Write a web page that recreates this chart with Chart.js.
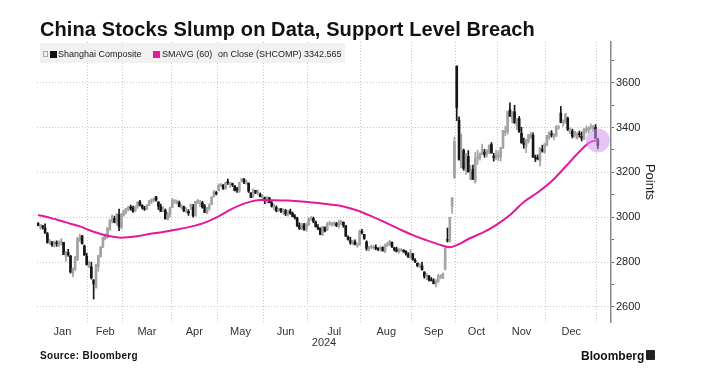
<!DOCTYPE html>
<html>
<head>
<meta charset="utf-8">
<script src="https://cdn.jsdelivr.net/npm/chart.js@4.4.1/dist/chart.umd.min.js"></script>
<style>
  body { margin: 0; background: #fff; }
  #wrap { position: relative; width: 710px; height: 384px; font-family: "Liberation Sans", Arial, sans-serif; overflow: hidden; }
  #chart { position: absolute; left: 0; top: 0; }
  #title { position: absolute; left: 40px; top: 19px; font-size: 20px; line-height: 20px; font-weight: bold; color: #111; white-space: nowrap; letter-spacing: 0.1px; }
  #legend { position: absolute; left: 40px; top: 43px; width: 305px; height: 20px; background: rgba(240,240,240,0.92); z-index: 2; }
  #legend span { position: absolute; top: 7px; font-size: 9px; line-height: 9px; color: #222; white-space: nowrap; }
  #legend i { position: absolute; display: block; }
  #source { position: absolute; left: 40px; top: 351px; font-size: 10px; line-height: 10px; font-weight: bold; color: #111; letter-spacing: 0.3px; }
  #logo { position: absolute; left: 581px; top: 350px; font-size: 12px; line-height: 12px; font-weight: bold; color: #111; }
  #logoIcon { position: absolute; left: 646px; top: 350px; width: 9px; height: 10px; background: #222; border-radius: 1px; }
</style>
</head>
<body>
<div id="wrap">
  <canvas id="chart" width="710" height="384"></canvas>
  <div id="title">China Stocks Slump on Data, Support Level Breach</div>
  <div id="legend">
    <i style="left:3px;top:8px;width:3px;height:4px;border:1px solid #aaa;"></i>
    <i style="left:10px;top:8px;width:7px;height:7px;background:#111;"></i>
    <span style="left:18px;">Shanghai Composite</span>
    <i style="left:113px;top:8px;width:7px;height:7px;background:#e5189b;"></i>
    <span style="left:122px;">SMAVG (60)</span>
    <span style="left:178px;">on Close (SHCOMP) 3342.565</span>
  </div>
  <div id="source">Source: Bloomberg</div>
  <div id="logo">Bloomberg</div>
  <div id="logoIcon"></div>
</div>
<script>
const monthNames = ['Jan', 'Feb', 'Mar', 'Apr', 'May', 'Jun', 'Jul', 'Aug', 'Sep', 'Oct', 'Nov', 'Dec'];
const sessionsPerMonth = [22, 15, 21, 20, 20, 19, 23, 22, 19, 18, 21, 22]; // 2024, then one session of Jan 2025

// daily candles, one row per month (last value = Jan 2 2025)
const opens = [
  2972,2955,2961,2951,2926,2890,2890,2874,2884,2876,2888,2888,2826,2842,2828,2749,2767,2811,2900,2917,2872,2826,
  2780,2779,2720,2685,2778,2825,2867,2903,2910,2944,2984,2995,2974,3012,2956,
  3011,3026,3035,3045,3040,3029,3047,3068,3053,3041,3035,3053,3070,3079,3092,3068,3047,3027,3030,2990,3009,
  3044,3073,3063,3065,3043,3046,3031,3026,3047,3044,3006,3068,3059,3064,3047,3019,3040,3057,3093,3109,
  3119,3142,3143,3126,3155,3145,3147,3139,3126,3116,3161,3167,3152,3152,3108,3095,3119,3109,3102,3086,
  3087,3067,3086,3064,3043,3043,3029,3038,3025,3030,3014,3027,3018,3000,2995,2963,2950,2966,2946,
  2967,2993,2995,2978,2955,2951,2925,2954,2944,2970,2967,2972,2972,2958,2972,2978,2962,2912,2895,2882,2890,2874,2877,
  2934,2923,2890,2856,2865,2864,2866,2861,2856,2865,2847,2876,2877,2888,2863,2857,2846,2851,2849,2848,2832,2819,
  2837,2808,2795,2779,2783,2756,2736,2738,2718,2715,2700,2714,2736,2727,2770,2901,2893,3049,3175,
  3674,3433,3221,3297,3207,3271,3168,3214,3159,3262,3264,3282,3291,3280,3291,3324,3273,3263,
  3271,3266,3311,3378,3382,3478,3439,3470,3405,3440,3374,3330,3316,3337,3358,3365,3266,3263,3250,3303,3289,
  3321,3357,3372,3359,3365,3397,3464,3418,3426,3441,3383,3384,3365,3350,3373,3361,3349,3387,3386,3399,3393,3400,
  3348
];
const highs = [
  2976,2967,2964,2971,2932,2901,2892,2894,2895,2895,2905,2888,2848,2857,2829,2774,2826,2911,2925,2919,2876,2839,
  2803,2800,2722,2791,2830,2870,2911,2925,2955,2988,3011,3005,3016,3036,3015,
  3032,3039,3048,3054,3050,3051,3069,3075,3056,3049,3057,3075,3081,3085,3092,3069,3059,3048,3037,3022,3045,
  3084,3077,3076,3072,3056,3050,3043,3034,3059,3057,3071,3080,3075,3071,3057,3044,3061,3093,3120,3115,
  3148,3151,3146,3154,3171,3156,3152,3142,3133,3156,3174,3173,3167,3153,3110,3126,3120,3122,3108,3101,
  3090,3092,3088,3070,3059,3051,3040,3039,3037,3035,3031,3036,3023,3012,3000,2975,2973,2973,2975,
  2998,3004,3001,2983,2967,2953,2959,2957,2977,2983,2977,2980,2977,2987,2987,2979,2963,2917,2911,2898,2899,2884,2943,
  2946,2924,2895,2870,2876,2874,2877,2864,2868,2868,2880,2889,2897,2890,2866,2867,2861,2861,2856,2851,2842,2856,
  2839,2816,2796,2793,2800,2757,2749,2741,2731,2726,2722,2746,2744,2752,2863,2952,3000,3088,3358,
  3674,3448,3371,3304,3285,3297,3231,3232,3289,3299,3287,3326,3303,3300,3322,3333,3285,3299,
  3294,3311,3387,3406,3471,3510,3470,3499,3439,3449,3401,3353,3346,3368,3380,3376,3277,3278,3310,3321,3331,
  3364,3381,3386,3373,3409,3411,3494,3434,3463,3446,3398,3393,3383,3377,3384,3380,3394,3407,3404,3416,3408,3413,
  3352
];
const lows = [
  2962,2945,2947,2929,2884,2879,2870,2867,2870,2870,2876,2833,2803,2826,2751,2735,2763,2806,2892,2880,2830,2786,
  2775,2724,2635,2685,2759,2822,2864,2899,2907,2942,2975,2975,2964,2940,2949,
  3005,3015,3028,3031,3021,3024,3040,3050,3036,3030,3034,3052,3061,3068,3071,3034,3025,3025,2992,2988,3000,
  3042,3061,3058,3046,3036,3026,3019,3008,3034,3000,3004,3061,3047,3040,3021,3015,3030,3055,3089,3099,
  3117,3136,3124,3125,3146,3133,3137,3117,3111,3110,3157,3150,3148,3110,3087,3088,3105,3100,3091,3080,
  3060,3063,3064,3045,3032,3024,3025,3020,3012,3007,3005,3013,3002,2991,2958,2945,2944,2941,2937,
  2962,2985,2975,2957,2945,2922,2918,2935,2940,2964,2960,2962,2958,2952,2966,2955,2915,2898,2879,2877,2876,2865,2876,
  2925,2901,2852,2850,2860,2857,2855,2851,2849,2849,2842,2869,2874,2865,2849,2845,2840,2848,2843,2831,2821,2817,
  2808,2797,2779,2775,2765,2728,2721,2715,2716,2703,2689,2710,2727,2727,2764,2889,2889,3017,3174,
  3431,3254,3220,3209,3191,3201,3167,3169,3152,3236,3254,3278,3267,3268,3283,3286,3250,3258,
  3252,3250,3306,3363,3370,3448,3420,3418,3390,3379,3330,3307,3288,3330,3350,3267,3248,3256,3228,3290,3285,
  3318,3347,3357,3345,3359,3392,3421,3405,3418,3386,3371,3353,3357,3348,3357,3340,3346,3375,3377,3391,3384,3352,
  3305
];
const closes = [
  2962,2967,2955,2929,2887,2893,2877,2886,2882,2886,2894,2834,2845,2833,2756,2770,2820,2906,2910,2883,2831,2789,
  2788,2730,2702,2789,2829,2866,2910,2922,2951,2988,3004,2977,3015,2957,3015,
  3027,3039,3047,3040,3027,3046,3068,3055,3043,3036,3054,3073,3080,3079,3077,3048,3026,3031,2993,3011,3041,
  3077,3074,3069,3047,3048,3027,3034,3019,3057,3007,3071,3074,3065,3045,3021,3044,3052,3088,3113,3105,
  3141,3147,3128,3154,3154,3148,3145,3119,3122,3154,3171,3157,3158,3116,3088,3124,3109,3111,3091,3087,
  3078,3091,3065,3049,3051,3028,3037,3028,3032,3015,3030,3018,3003,2998,2963,2950,2972,2946,2967,
  2994,2997,2982,2957,2950,2923,2959,2939,2970,2971,2975,2976,2962,2977,2982,2964,2915,2901,2887,2891,2879,2879,2939,
  2932,2905,2860,2867,2869,2869,2862,2858,2868,2850,2877,2879,2893,2867,2856,2848,2855,2854,2848,2837,2823,2842,
  2811,2802,2784,2788,2765,2736,2744,2721,2717,2704,2717,2736,2736,2748,2863,2896,3000,3088,3336,
  3489,3258,3301,3217,3284,3202,3202,3169,3261,3268,3285,3302,3280,3300,3322,3286,3266,3279,
  3272,3310,3387,3384,3471,3452,3470,3421,3439,3380,3331,3324,3346,3368,3370,3268,3263,3259,3310,3295,3326,
  3364,3379,3367,3368,3404,3402,3422,3432,3461,3392,3386,3361,3382,3371,3368,3352,3394,3393,3398,3400,3407,3352,
  3318
];

// 60-day moving average (session index, value)
const smaDay = [0, 6, 12, 18, 24, 30, 36, 42, 48, 54, 60, 66, 72, 78, 84, 90, 96, 102, 108, 114, 120,
  126, 132, 138, 144, 150, 156, 162, 168, 174, 178, 182, 186, 192, 198, 204, 210, 216, 222, 228, 234, 238, 240, 242];
const smaValue = [3010, 2995, 2977, 2959, 2935, 2917, 2909, 2914, 2925, 2934, 2945, 2958, 2976, 3004, 3038, 3064, 3077, 3076, 3074, 3070, 3064,
  3057, 3048, 3030, 3005, 2977, 2948, 2920, 2897, 2876, 2866, 2880, 2903, 2930, 2965, 3010, 3068, 3110, 3160, 3225, 3292, 3330, 3340, 3342];

const yMajorTicks = [2600, 2800, 3000, 3200, 3400, 3600];
const yMinorTicks = [2700, 2900, 3100, 3300, 3500, 3700];

// month boundaries (gridlines) and month centres (labels)
const monthBounds = [];
const monthCenters = [];
let run = 0;
sessionsPerMonth.forEach(n => {
  monthCenters.push(run - 0.5 + n / 2);
  run += n;
  monthBounds.push(run - 0.5);
});
const xTicks = monthBounds.concat(monthCenters).sort((a, b) => a - b);

const upColor = '#a3a3a3';
const downColor = '#151515';
const candleColors = closes.map((c, i) => c >= opens[i] ? upColor : downColor);
const gridColor = '#c6c6c6';
const axisFont = { family: '"Liberation Sans", Arial, sans-serif', size: 11 };
const lastDay = smaDay[smaDay.length - 1];
const lastSma = smaValue[smaValue.length - 1];

const ctx = document.getElementById('chart').getContext('2d');

new Chart(ctx, {
  type: 'bar',
  data: {
    datasets: [
      {
        type: 'line',
        label: 'highlight',
        data: [{ x: lastDay, y: lastSma }],
        showLine: false,
        pointRadius: 12,
        pointBackgroundColor: 'rgba(205, 150, 235, 0.55)',
        pointBorderWidth: 0,
        order: 0
      },
      {
        type: 'line',
        label: 'SMAVG (60)',
        data: smaDay.map((d, i) => ({ x: d, y: smaValue[i] })),
        borderColor: '#e5189b',
        borderWidth: 2,
        pointRadius: 0,
        cubicInterpolationMode: 'monotone',
        order: 1
      },
      {
        label: 'bodies',
        data: closes.map((c, i) => ({ x: i, y: [opens[i], c] })),
        backgroundColor: candleColors,
        barThickness: 2,
        minBarLength: 1,
        grouped: false,
        order: 2
      },
      {
        label: 'wicks',
        data: closes.map((c, i) => ({ x: i, y: [lows[i], highs[i]] })),
        backgroundColor: candleColors,
        barThickness: 1,
        grouped: false,
        order: 3
      }
    ]
  },
  options: {
    responsive: false,
    devicePixelRatio: 1,
    animation: false,
    layout: { padding: { left: 37, top: 42, right: 53, bottom: 34 } },
    plugins: { legend: { display: false }, tooltip: { enabled: false } },
    scales: {
      x: {
        type: 'linear',
        min: -0.5,
        max: 247.7,
        offset: false,
        afterBuildTicks: s => { s.ticks = xTicks.map(v => ({ value: v })); },
        afterFit: s => { s.height = 28; },
        grid: {
          offset: false,
          drawTicks: false,
          color: c => (c.tick && monthBounds.includes(c.tick.value)) ? gridColor : 'rgba(0,0,0,0)'
        },
        border: { display: false, dash: [1, 2] },
        ticks: {
          autoSkip: false,
          maxRotation: 0,
          padding: 3,
          color: '#333',
          font: axisFont,
          callback: v => {
            const k = monthCenters.indexOf(v);
            return k >= 0 ? monthNames[k] : '';
          }
        },
        title: { display: true, text: '2024', color: '#333', font: axisFont, padding: 0 }
      },
      y: {
        position: 'right',
        min: 2533,
        max: 3781,
        afterBuildTicks: s => {
          s.ticks = yMajorTicks.concat(yMinorTicks).sort((a, b) => a - b).map(v => ({ value: v }));
        },
        afterFit: s => { s.width = 46; },
        grid: {
          color: c => (c.tick && yMajorTicks.includes(c.tick.value)) ? gridColor : 'rgba(0,0,0,0)',
          tickColor: '#666',
          tickLength: 3,
          drawTicks: true
        },
        border: { display: true, color: '#888', width: 1.5, dash: [1, 2] },
        ticks: {
          padding: 2,
          color: '#222',
          font: axisFont,
          callback: v => yMajorTicks.includes(v) ? String(v) : ''
        },
        title: {
          display: true,
          text: 'Points',
          color: '#222',
          font: { family: '"Liberation Sans", Arial, sans-serif', size: 13 },
          padding: 0
        }
      }
    }
  }
});
</script>
</body>
</html>
